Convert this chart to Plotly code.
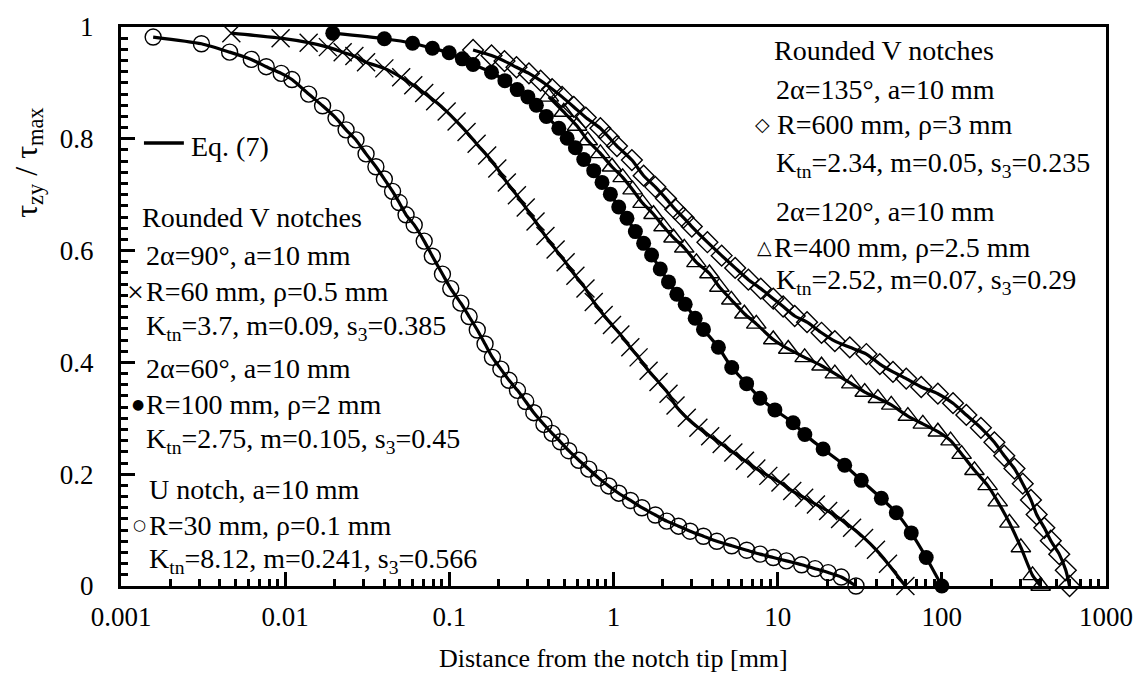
import plotly.graph_objects as go

# ---------------- data (distance in mm, normalised stress) ----------------
# U notch, a=10 mm, R=30 mm, rho=0.1 mm  (open circles)
x_u = [0.00157, 0.00309, 0.00459, 0.00622, 0.00767, 0.00946, 0.0110, 0.0139, 0.0169, 0.0204,
       0.0235, 0.0270, 0.0311, 0.0357, 0.0402, 0.0451, 0.0495, 0.0545, 0.0611, 0.0703,
       0.0788, 0.0908, 0.102, 0.1175, 0.132, 0.148, 0.165, 0.183, 0.206, 0.231,
       0.260, 0.292, 0.327, 0.377, 0.423, 0.475, 0.534, 0.615, 0.707, 0.813,
       0.935, 1.076, 1.27, 1.49, 1.80, 2.11, 2.49, 2.93, 3.53, 4.26,
       5.25, 6.48, 7.80, 9.40, 11.3, 14.0, 16.9, 20.3, 24.4, 30.0]
y_u = [0.982, 0.970, 0.955, 0.942, 0.929, 0.917, 0.906, 0.880, 0.859, 0.837,
       0.816, 0.798, 0.773, 0.750, 0.728, 0.706, 0.686, 0.664, 0.646, 0.617,
       0.590, 0.558, 0.532, 0.506, 0.482, 0.458, 0.433, 0.409, 0.388, 0.368,
       0.350, 0.330, 0.310, 0.289, 0.273, 0.258, 0.242, 0.225, 0.209, 0.193,
       0.179, 0.166, 0.153, 0.140, 0.127, 0.116, 0.107, 0.098, 0.089, 0.080,
       0.072, 0.064, 0.057, 0.051, 0.045, 0.038, 0.031, 0.024, 0.016, 0.0]

# Rounded V notch 2alpha=90 deg, R=60 mm, rho=0.5 mm  (crosses)
x_c = [0.0047, 0.00938, 0.0139, 0.0182, 0.0224, 0.0264, 0.0311, 0.0402, 0.0509, 0.0603,
       0.0703, 0.0820, 0.0963, 0.1107, 0.1273, 0.1466, 0.170, 0.196, 0.224, 0.258,
       0.292, 0.335, 0.385, 0.444, 0.511, 0.586, 0.675, 0.758, 0.871, 0.979,
       1.101, 1.266, 1.422, 1.636, 1.880, 2.163, 2.387, 2.794, 3.289, 3.880,
       4.560, 5.37, 6.32, 7.41, 8.77, 10.4, 12.27, 14.5, 17.1, 20.3,
       24.0, 28.4, 33.6, 39.7, 47.0, 60.0]
y_c = [0.989, 0.980, 0.972, 0.964, 0.955, 0.948, 0.937, 0.926, 0.910, 0.896,
       0.882, 0.867, 0.849, 0.831, 0.812, 0.791, 0.770, 0.747, 0.722, 0.699,
       0.677, 0.652, 0.626, 0.602, 0.579, 0.555, 0.532, 0.508, 0.485, 0.467,
       0.450, 0.427, 0.409, 0.385, 0.365, 0.344, 0.323, 0.301, 0.283, 0.268,
       0.254, 0.239, 0.224, 0.210, 0.197, 0.185, 0.170, 0.158, 0.146, 0.134,
       0.120, 0.104, 0.086, 0.065, 0.040, 0.0]

# Rounded V notch 2alpha=60 deg, R=100 mm, rho=2 mm  (filled circles)
x_f = [0.0195, 0.0402, 0.0597, 0.0789, 0.0997, 0.120, 0.1395, 0.1807, 0.218, 0.259,
       0.301, 0.339, 0.390, 0.4645, 0.522, 0.586, 0.659, 0.758, 0.851, 0.957,
       1.076, 1.208, 1.359, 1.526, 1.706, 1.927, 2.163, 2.431, 2.733, 3.145,
       3.532, 4.355, 5.25, 6.47, 7.80, 9.62, 12.42, 14.64, 18.92, 25.6,
       32.3, 42.8, 52.8, 65.1, 80.3, 100.0]
y_f = [0.989, 0.979, 0.971, 0.962, 0.954, 0.943, 0.933, 0.919, 0.904, 0.888,
       0.875, 0.860, 0.840, 0.819, 0.801, 0.784, 0.763, 0.743, 0.722, 0.701,
       0.678, 0.658, 0.634, 0.613, 0.592, 0.567, 0.544, 0.522, 0.504, 0.479,
       0.459, 0.427, 0.391, 0.362, 0.336, 0.315, 0.292, 0.271, 0.245, 0.216,
       0.189, 0.157, 0.131, 0.095, 0.051, 0.0]

# Rounded V notch 2alpha=120 deg, R=400 mm, rho=2.5 mm  (open triangles)
x_t = [0.4036, 0.4977, 0.600, 0.697, 0.832, 0.979, 1.137, 1.307, 1.503, 1.753,
       2.017, 2.32, 2.698, 3.20, 3.84, 4.415, 5.22, 6.27, 7.41, 9.40,
       11.6, 14.6, 18.5, 22.3, 28.1, 33.9, 40.8, 49.2, 62.1, 76.6,
       94.6, 113.0, 132.0, 158.0, 190.0, 219.0, 258.0, 303.0, 357.0, 400.0]
y_t = [0.875, 0.848, 0.823, 0.797, 0.774, 0.750, 0.731, 0.709, 0.685, 0.665,
       0.643, 0.623, 0.605, 0.579, 0.559, 0.535, 0.512, 0.487, 0.469, 0.441,
       0.424, 0.409, 0.394, 0.380, 0.362, 0.347, 0.336, 0.324, 0.304, 0.290,
       0.276, 0.260, 0.236, 0.207, 0.180, 0.151, 0.113, 0.069, 0.019, 0.0]

# Rounded V notch 2alpha=135 deg, R=600 mm, rho=3 mm  (open diamonds)
x_d = [0.1395, 0.1807, 0.2168, 0.2565, 0.3055, 0.3597, 0.4227, 0.4864, 0.573, 0.678,
       0.832, 0.935, 1.05, 1.294, 1.526, 1.796, 2.089, 2.377, 2.668, 2.999,
       3.733, 4.56, 5.51, 6.63, 7.89, 9.40, 10.8, 12.7, 15.1, 18.5,
       22.3, 27.5, 34.7, 41.9, 50.4, 60.7, 74.9, 94.6, 117.0, 141.0,
       173.0, 209.0, 240.0, 277.0, 311.0, 349.0, 378.0, 421.0, 461.0, 519.0,
       569.0, 600.0]
y_d = [0.959, 0.949, 0.939, 0.928, 0.917, 0.904, 0.889, 0.875, 0.857, 0.838,
       0.819, 0.803, 0.787, 0.762, 0.734, 0.714, 0.693, 0.674, 0.659, 0.643,
       0.615, 0.591, 0.569, 0.548, 0.532, 0.514, 0.500, 0.483, 0.472, 0.453,
       0.438, 0.427, 0.415, 0.397, 0.383, 0.371, 0.356, 0.344, 0.327, 0.306,
       0.283, 0.257, 0.233, 0.210, 0.183, 0.154, 0.128, 0.104, 0.081, 0.057,
       0.028, 0.0]

x_tickvals = [0.001, 0.01, 0.1, 1, 10, 100, 1000]
x_ticktext = ['0.001', '0.01', '0.1', '1', '10', '100', '1000']
y_tickvals = [0, 0.2, 0.4, 0.6, 0.8, 1.0]
y_ticktext = ['0', '0.2', '0.4', '0.6', '0.8', '1']

FONT = 'Liberation Serif'
ANN_SIZE = 28
TICK_SIZE = 27

fig = go.Figure()

series = [
    (x_u, y_u, dict(symbol='circle-open', size=16, color='black', line=dict(color='black', width=1.4))),
    (x_c, y_c, dict(symbol='x-thin-open', size=18, color='black', line=dict(color='black', width=1.4))),
    (x_f, y_f, dict(symbol='circle', size=15, color='black', line=dict(color='black', width=0))),
    (x_t, y_t, dict(symbol='triangle-up-open', size=17, color='black', line=dict(color='black', width=1.4))),
    (x_d, y_d, dict(symbol='diamond-open', size=16, color='black', line=dict(color='black', width=1.4))),
]
for xs, ys, mk in series:
    fig.add_trace(go.Scatter(
        x=xs, y=ys, mode='lines+markers',
        line=dict(color='black', width=3.2, shape='spline', smoothing=0.6),
        marker=mk, cliponaxis=False, showlegend=False, hoverinfo='skip'))

minor_x = [m * 10 ** e for e in range(-3, 3) for m in range(2, 10)]

fig.update_layout(
    width=1145, height=678,
    margin=dict(l=121, r=37, t=17, b=92),
    paper_bgcolor='white', plot_bgcolor='white',
    font=dict(family=FONT, color='black', size=TICK_SIZE),
    showlegend=False,
    xaxis=dict(
        type='log', range=[-3, 3],
        tickmode='array', tickvals=x_tickvals, ticktext=x_ticktext,
        ticks='inside', ticklen=14, tickwidth=3, tickcolor='black',
        showline=True, linewidth=3, linecolor='black', mirror=True,
        showgrid=False, zeroline=False,
        tickfont=dict(family=FONT, size=TICK_SIZE, color='black'),
        ticklabelstandoff=5,
        minor=dict(tickmode='array', tickvals=minor_x, ticks='inside',
                   ticklen=7, tickwidth=3, tickcolor='black', showgrid=False),
    ),
    yaxis=dict(
        range=[0, 1],
        tickmode='array', tickvals=y_tickvals, ticktext=y_ticktext,
        ticks='inside', ticklen=14, tickwidth=3, tickcolor='black',
        showline=True, linewidth=3, linecolor='black', mirror=True,
        showgrid=False, zeroline=False,
        tickfont=dict(family=FONT, size=TICK_SIZE, color='black'),
        ticklabelstandoff=19,
        minor=dict(dtick=0.02, ticks='inside', ticklen=7, tickwidth=3,
                   tickcolor='black', showgrid=False),
    ),
)

def px_x(px):
    return (px - 121) / 987.0

def px_y(py):
    return (586 - py) / 569.0

ann = []
def txt(text, xpx, ypx, size=ANN_SIZE, xanchor='left', family=FONT):
    ann.append(dict(text=text, x=px_x(xpx), y=px_y(ypx), xref='paper', yref='paper',
                    xanchor=xanchor, yanchor='middle', showarrow=False,
                    font=dict(family=family, size=size, color='black')))

# left block
txt('Eq. (7)', 189, 139)
txt('Rounded V notches', 140, 211)
txt('2\u03b1=90\u00b0, a=10 mm', 144, 250)
txt('R=60 mm, \u03c1=0.5 mm', 144, 286)
txt('K<sub>tn</sub>=3.7, m=0.09, s<sub>3</sub>=0.385', 144, 323)
txt('2\u03b1=60\u00b0, a=10 mm', 144, 365)
txt('R=100 mm, \u03c1=2 mm', 144, 401)
txt('K<sub>tn</sub>=2.75, m=0.105, s<sub>3</sub>=0.45', 144, 438)
txt('U notch, a=10 mm', 147, 488)
txt('R=30 mm, \u03c1=0.1 mm', 147, 524)
txt('K<sub>tn</sub>=8.12, m=0.241, s<sub>3</sub>=0.566', 147, 560)
# right block
txt('Rounded V notches', 773, 41)
txt('2\u03b1=135\u00b0, a=10 mm', 775, 81)
txt('R=600 mm, \u03c1=3 mm', 776, 116)
txt('K<sub>tn</sub>=2.34, m=0.05, s<sub>3</sub>=0.235', 775, 157)
txt('2\u03b1=120\u00b0, a=10 mm', 775, 205)
txt('R=400 mm, \u03c1=2.5 mm', 773, 241)
txt('K<sub>tn</sub>=2.52, m=0.07, s<sub>3</sub>=0.29', 775, 276)

# symbol keys
txt('\u00d7', 136, 286, size=30, xanchor='center')
txt('\u25cf', 138, 401, size=14, xanchor='center', family='DejaVu Sans')
txt('\u25cb', 140, 524, size=15, xanchor='center', family='DejaVu Sans')
txt('\u25c7', 764, 116, size=19, xanchor='center', family='DejaVu Sans')
txt('\u25b3', 766, 241, size=19, xanchor='center', family='DejaVu Sans')

# axis titles
ann.append(dict(text='Distance from the notch tip [mm]', x=0.5, y=px_y(660),
                xref='paper', yref='paper', xanchor='center', yanchor='middle',
                showarrow=False, font=dict(family=FONT, size=26, color='black')))
ann.append(dict(text='\u03c4<sub>zy</sub> / \u03c4<sub>max</sub>', x=px_x(28), y=px_y(155),
                xref='paper', yref='paper', xanchor='center', yanchor='middle',
                textangle=-90, showarrow=False,
                font=dict(family=FONT, size=32, color='black')))

fig.update_layout(annotations=ann)
fig.add_shape(type='line', xref='paper', yref='paper',
              x0=px_x(144), x1=px_x(184), y0=px_y(135), y1=px_y(135),
              line=dict(color='black', width=3.5))

fig.write_html('out.html')
